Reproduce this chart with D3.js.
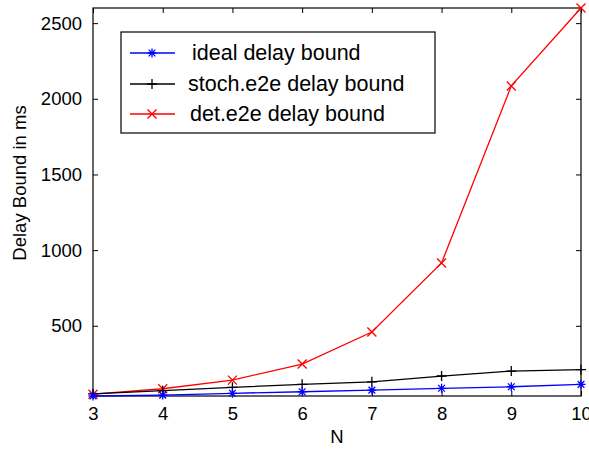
<!DOCTYPE html>
<html>
<head>
<meta charset="utf-8">
<script src="https://cdn.jsdelivr.net/npm/d3@7"></script>
<style>
  body { margin: 0; background: #fff; }
  svg { display: block; font-family: "Liberation Sans", Arial, sans-serif; }
</style>
</head>
<body>
<svg id="chart" width="589" height="450"></svg>
<script>
// data
var nValues = [3, 4, 5, 6, 7, 8, 9, 10];
var idealBound = [36, 42, 54, 64, 75, 87, 97, 113];
var stochBound = [50, 71, 93, 113, 130, 168, 201, 210];
var detBound = [48, 84, 141, 247, 459, 915, 2085, 2600];
var yTicks = [500, 1000, 1500, 2000, 2500];
var seriesNames = ['ideal delay bound', 'stoch.e2e delay bound', 'det.e2e delay bound'];

var svg = d3.select('#chart');
var plotLeft = 93, plotRight = 581, plotTop = 8, plotBottom = 396;

var allValues = idealBound.concat(stochBound, detBound);
var x = d3.scaleLinear().domain(d3.extent(nValues)).range([plotLeft, plotRight]);
var y = d3.scaleLinear().domain(d3.extent(allValues)).range([plotBottom, plotTop]);

// axes, matlab style: ticks inward, box all round
var tickLen = 5;
function styleLabels(g) {
  g.attr('font-family', null);
  g.selectAll('text').attr('font-size', 18.5).attr('fill', '#000');
}
svg.append('g')
  .attr('transform', 'translate(0,' + plotBottom + ')')
  .call(d3.axisBottom(x).tickValues(nValues).tickFormat(d3.format('d')).tickSizeInner(-tickLen).tickSizeOuter(0).tickPadding(11))
  .call(styleLabels);
svg.append('g')
  .attr('transform', 'translate(0,' + plotTop + ')')
  .call(d3.axisTop(x).tickValues(nValues).tickFormat('').tickSizeInner(-tickLen).tickSizeOuter(0));
svg.append('g')
  .attr('transform', 'translate(' + plotLeft + ',0)')
  .call(d3.axisLeft(y).tickValues(yTicks).tickFormat(d3.format('d')).tickSizeInner(-tickLen).tickSizeOuter(0).tickPadding(11))
  .call(styleLabels);
svg.append('g')
  .attr('transform', 'translate(' + plotRight + ',0)')
  .call(d3.axisRight(y).tickValues(yTicks).tickFormat('').tickSizeInner(-tickLen).tickSizeOuter(0));

svg.selectAll('.domain').remove();
svg.selectAll('.tick line').attr('stroke', '#000');
svg.append('rect')
  .attr('x', plotLeft).attr('y', plotTop)
  .attr('width', plotRight - plotLeft).attr('height', plotBottom - plotTop)
  .attr('fill', 'none').attr('stroke', '#000').attr('stroke-width', 1.2);

// markers
function drawMarker(g, kind, cx, cy, color) {
  var r = kind === 'plus' ? 5 : 4.5;
  var p = d3.path();
  if (kind === 'plus' || kind === 'star') {
    p.moveTo(cx - r, cy); p.lineTo(cx + r, cy);
    p.moveTo(cx, cy - r); p.lineTo(cx, cy + r);
  }
  if (kind === 'cross' || kind === 'star') {
    var d = kind === 'star' ? r * 0.75 : r;
    p.moveTo(cx - d, cy - d); p.lineTo(cx + d, cy + d);
    p.moveTo(cx - d, cy + d); p.lineTo(cx + d, cy - d);
  }
  g.append('path').attr('d', p.toString()).attr('stroke', color).attr('stroke-width', 1.3).attr('fill', 'none');
}

var series = [
  { values: idealBound, color: '#0000ff', marker: 'star' },
  { values: stochBound, color: '#000000', marker: 'plus' },
  { values: detBound, color: '#ff0000', marker: 'cross' }
];

var line = d3.line().x(function (d, i) { return x(nValues[i]); }).y(function (d) { return y(d); });

series.slice().reverse().forEach(function (s) {
  var g = svg.append('g');
  g.append('path').datum(s.values).attr('d', line)
    .attr('fill', 'none').attr('stroke', s.color).attr('stroke-width', 1.3);
  s.values.forEach(function (v, i) { drawMarker(g, s.marker, x(nValues[i]), y(v), s.color); });
});

// axis labels
svg.append('text').attr('x', (plotLeft + plotRight) / 2).attr('y', 443)
  .attr('text-anchor', 'middle').attr('font-size', 18.5).text('N');
svg.append('text').attr('transform', 'translate(26,183) rotate(-90)')
  .attr('text-anchor', 'middle').attr('font-size', 18.5).text('Delay Bound in ms');

// legend
var legend = svg.append('g');
legend.append('rect').attr('x', 121).attr('y', 32).attr('width', 314).attr('height', 101)
  .attr('fill', '#fff').attr('stroke', '#000').attr('stroke-width', 1.2);
var rowY = [53, 84, 114];
var rowTextX = [192, 188, 190];
series.forEach(function (s, i) {
  legend.append('line').attr('x1', 130).attr('x2', 175).attr('y1', rowY[i]).attr('y2', rowY[i])
    .attr('stroke', s.color).attr('stroke-width', 1.3);
  drawMarker(legend, s.marker, 152, rowY[i], s.color);
  legend.append('text').attr('x', rowTextX[i]).attr('y', rowY[i] + 7)
    .attr('font-size', 21.5).text(seriesNames[i]);
});
</script>
</body>
</html>
